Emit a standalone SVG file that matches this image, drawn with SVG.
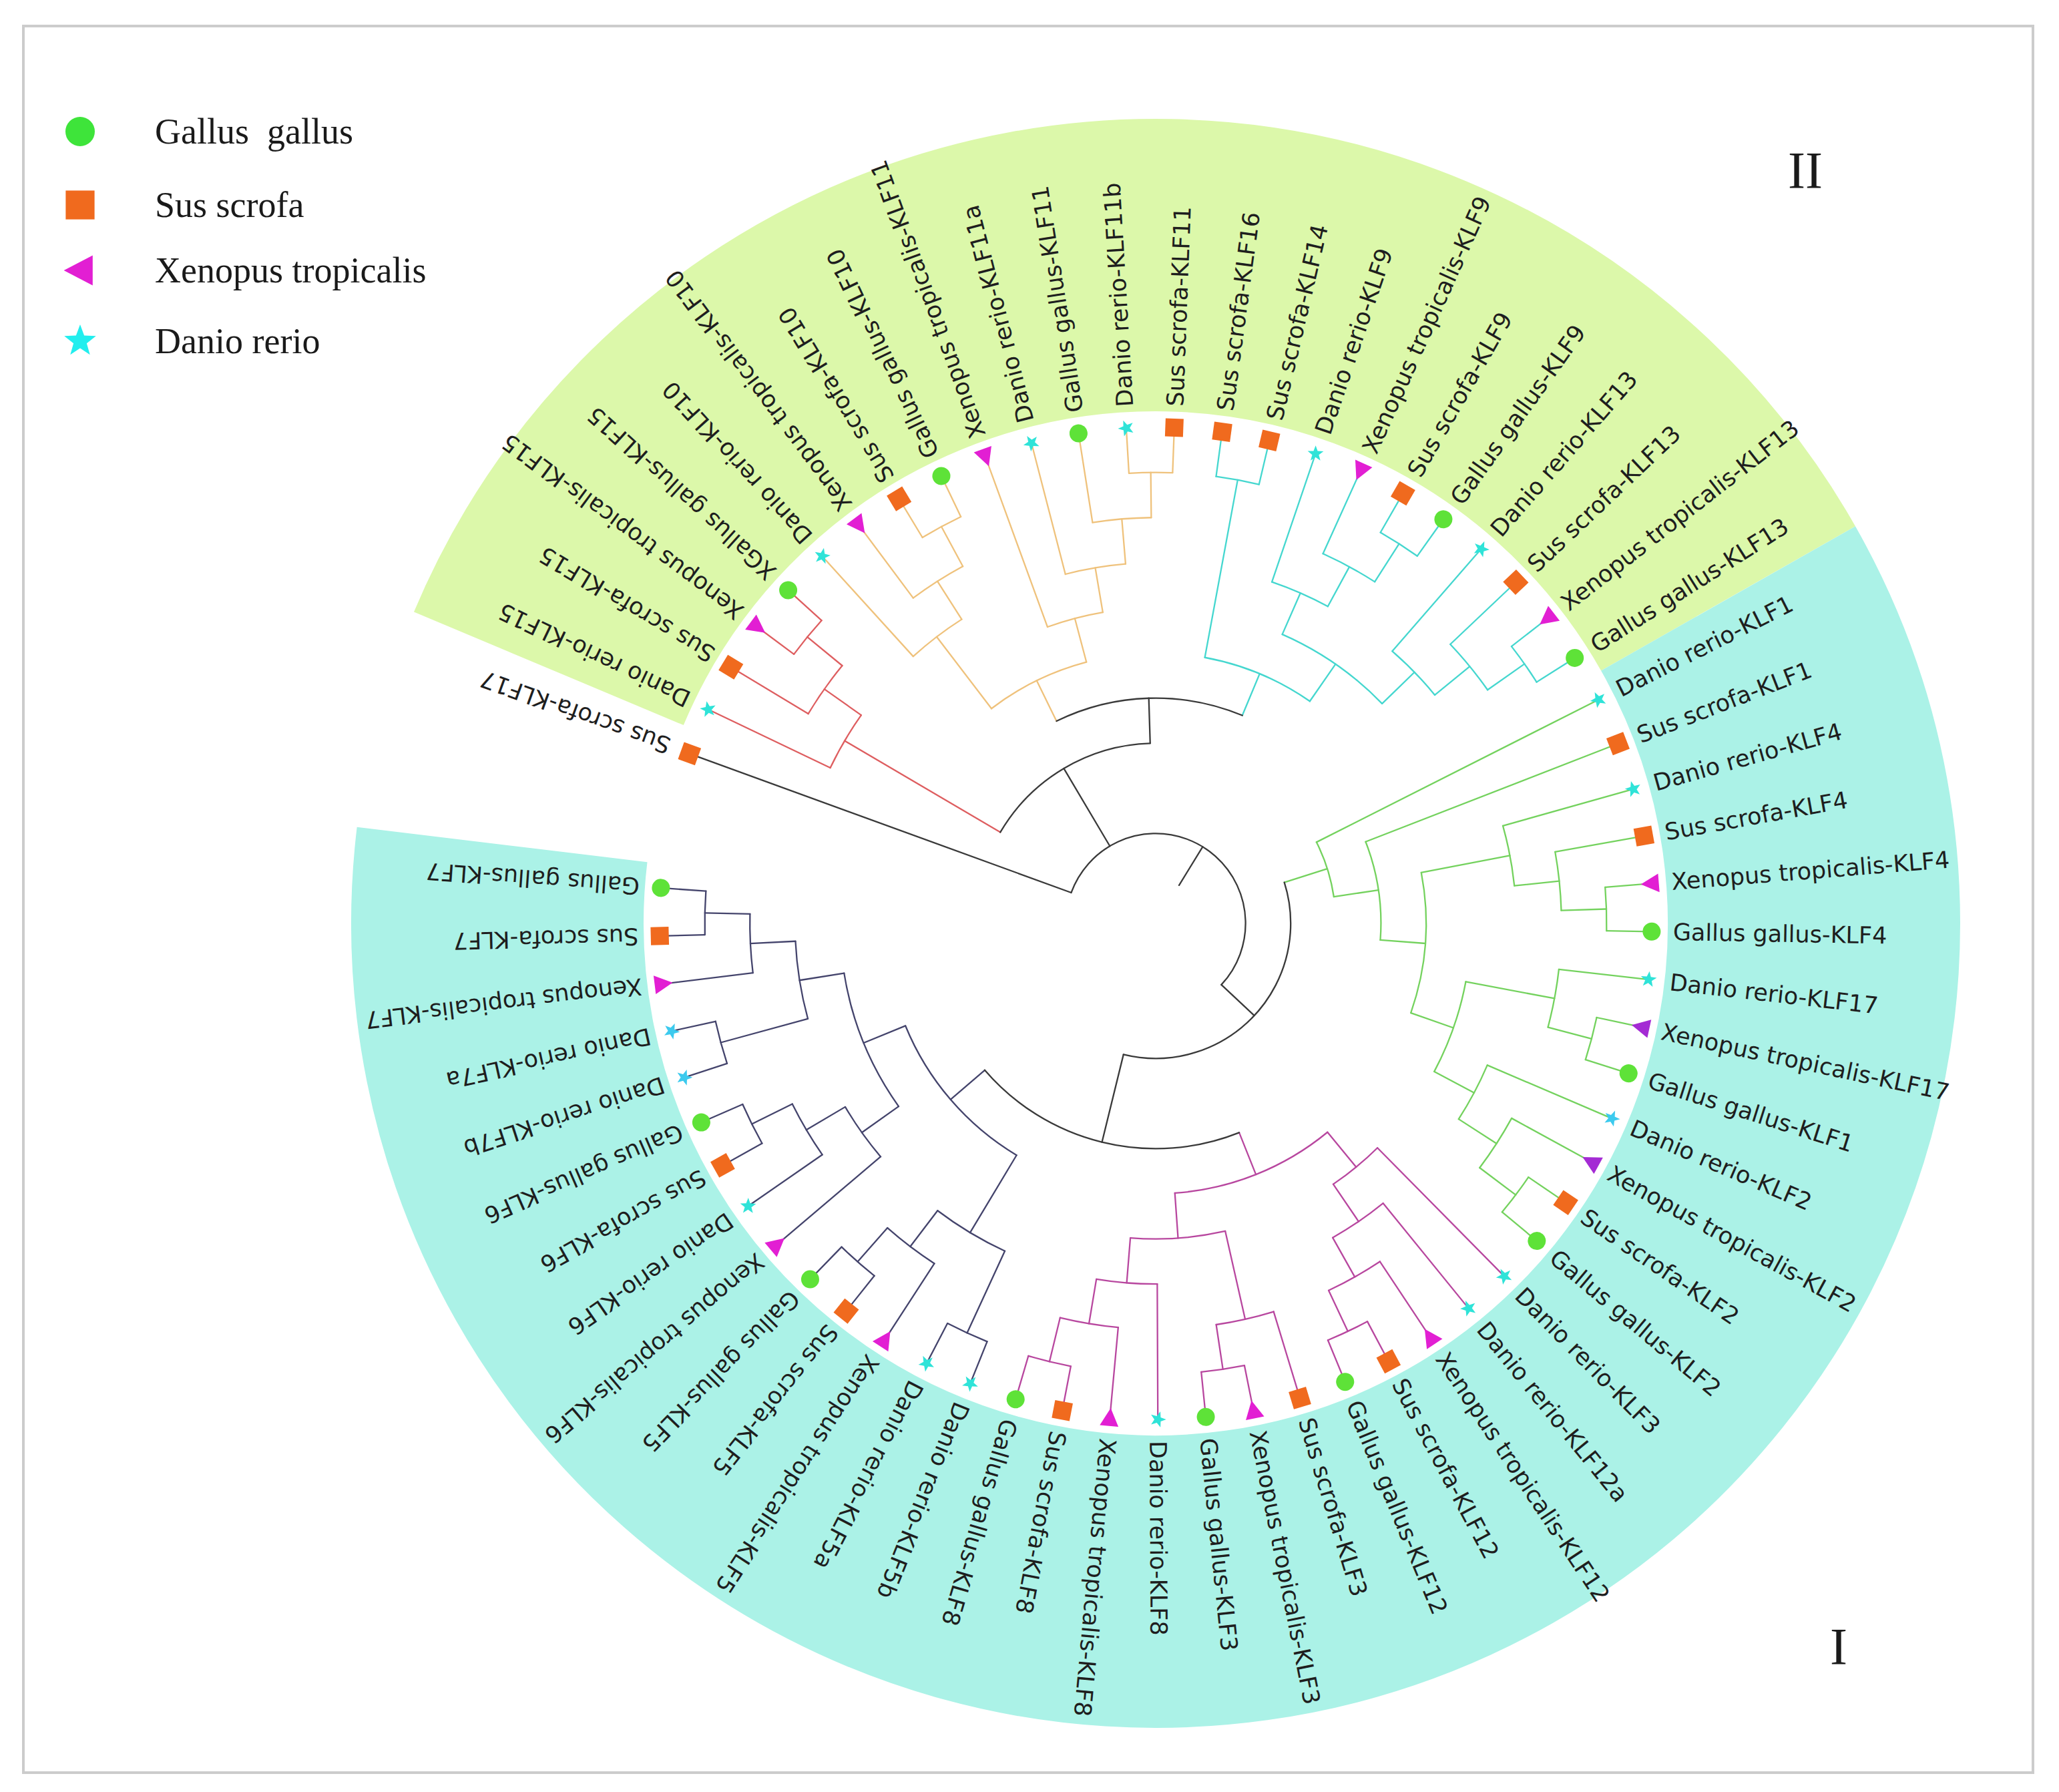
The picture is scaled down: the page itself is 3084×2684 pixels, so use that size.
<svg xmlns="http://www.w3.org/2000/svg" xmlns:xlink="http://www.w3.org/1999/xlink" width="3084" height="2684" viewBox="0 0 3084 2684">
<style>
.b{fill:none;stroke-width:2.3;stroke-linecap:round}
.k{stroke:#3a3a3a}.r{stroke:#de5e60}.o{stroke:#efc27c}.c{stroke:#45d7cf}.g{stroke:#74d25e}.p{stroke:#b8479f}.n{stroke:#44446c}
.lab{font-family:"DejaVu Sans",Verdana,sans-serif;font-size:35px;fill:#1e1e1e}
.leg{font-family:"Liberation Serif","Times New Roman",serif;font-size:54px;fill:#1a1a1a}
.rn{font-family:"Liberation Serif","Times New Roman",serif;font-size:78px;fill:#1a1a1a}
</style>
<defs>
<circle id="gg" r="13.5" fill="#5ee238"/>
<rect id="ss" x="-13.5" y="-13.5" width="27" height="27" fill="#f06a1e"/>
<path id="xt" d="M-14 0L13 -14L13 14Z" fill="#e21fd3"/>
<path id="xtv" d="M-14 0L13 -14L13 14Z" fill="#a42bd4"/>
<path id="dr" d="M0,-12.5 L3.06,-4.21 L11.89,-3.86 L4.95,1.61 L7.35,10.11 L0,5.2 L-7.35,10.11 L-4.95,1.61 L-11.89,-3.86 L-3.06,-4.21 Z" fill="#2fe3d8"/>
<path id="drb" d="M0,-12.5 L3.06,-4.21 L11.89,-3.86 L4.95,1.61 L7.35,10.11 L0,5.2 L-7.35,10.11 L-4.95,1.61 L-11.89,-3.86 L-3.06,-4.21 Z" fill="#3ccaee"/>
</defs>
<rect width="3084" height="2684" fill="#ffffff"/>
<rect x="35" y="39" width="3010" height="2616" fill="none" stroke="#cccccc" stroke-width="4"/>
<g id="legend">
<g id="leg-gg"><circle cx="120" cy="197" r="22" fill="#3ee43a"/><text class="leg" x="232" y="215" xml:space="preserve">Gallus  gallus</text></g>
<g id="leg-ss"><use href="#ss" transform="translate(120 307) scale(1.6)"/><text class="leg" x="232" y="325">Sus scrofa</text></g>
<g id="leg-xt"><use href="#xt" transform="translate(118 405) scale(1.6)"/><text class="leg" x="232" y="423">Xenopus tropicalis</text></g>
<g id="leg-dr"><path d="M0,-12.5 L3.06,-4.21 L11.89,-3.86 L4.95,1.61 L7.35,10.11 L0,5.2 L-7.35,10.11 L-4.95,1.61 L-11.89,-3.86 L-3.06,-4.21 Z" fill="#22eeee" transform="translate(120 511) scale(2)"/><text class="leg" x="232" y="529">Danio rerio</text></g>
</g>
<text id="group-II" class="rn" x="2704" y="281" text-anchor="middle">II</text>
<text id="group-I" class="rn" x="2754" y="2492" text-anchor="middle">I</text>
<g transform="translate(1731 1383)">
<g id="sectors" fill="none" stroke-width="438">
<circle r="986" stroke="#dcf8aa" pathLength="360" stroke-dasharray="127.65 400" transform="rotate(202.775)"/>
<circle r="986" stroke="#abf2e7" pathLength="360" stroke-dasharray="216.45 400" transform="rotate(330.425)"/>
</g>
<g id="connectors" class="b">
<path class="k" transform="rotate(301.54)" d="M67 0H134.6"/>
<path class="k" transform="rotate(200)" d="M134.6 0H743"/>
<path class="k" transform="rotate(239.33)" d="M134.6 0H269.8"/>
<path class="r" transform="rotate(210.41)" d="M269.8 0H540.2"/>
<path class="r" transform="rotate(205.55)" d="M540.2 0H743"/>
<path class="r" transform="rotate(215.2625)" d="M540.2 0H607.8"/>
<path class="r" transform="rotate(211.1)" d="M607.8 0H743"/>
<path class="r" transform="rotate(219.425)" d="M607.8 0H675.4"/>
<path class="r" transform="rotate(216.65)" d="M675.4 0H743"/>
<path class="r" transform="rotate(222.2)" d="M675.4 0H743"/>
<path class="k" transform="rotate(268.248)" d="M269.8 0H337.4"/>
<path class="o" transform="rotate(243.88)" d="M337.4 0H405"/>
<path class="o" transform="rotate(232.606)" d="M405 0H540.2"/>
<path class="o" transform="rotate(227.75)" d="M540.2 0H743"/>
<path class="o" transform="rotate(237.4625)" d="M540.2 0H607.8"/>
<path class="o" transform="rotate(233.3)" d="M607.8 0H743"/>
<path class="o" transform="rotate(241.625)" d="M607.8 0H675.4"/>
<path class="o" transform="rotate(238.85)" d="M675.4 0H743"/>
<path class="o" transform="rotate(244.4)" d="M675.4 0H743"/>
<path class="o" transform="rotate(255.153)" d="M405 0H472.6"/>
<path class="o" transform="rotate(249.95)" d="M472.6 0H743"/>
<path class="o" transform="rotate(260.356)" d="M472.6 0H540.2"/>
<path class="o" transform="rotate(255.5)" d="M540.2 0H743"/>
<path class="o" transform="rotate(265.2125)" d="M540.2 0H607.8"/>
<path class="o" transform="rotate(261.05)" d="M607.8 0H743"/>
<path class="o" transform="rotate(269.375)" d="M607.8 0H675.4"/>
<path class="o" transform="rotate(266.6)" d="M675.4 0H743"/>
<path class="o" transform="rotate(272.15)" d="M675.4 0H743"/>
<path class="c" transform="rotate(292.616)" d="M337.4 0H405"/>
<path class="c" transform="rotate(280.475)" d="M405 0H675.4"/>
<path class="c" transform="rotate(277.7)" d="M675.4 0H743"/>
<path class="c" transform="rotate(283.25)" d="M675.4 0H743"/>
<path class="c" transform="rotate(304.756)" d="M405 0H472.6"/>
<path class="c" transform="rotate(293.656)" d="M472.6 0H540.2"/>
<path class="c" transform="rotate(288.8)" d="M540.2 0H743"/>
<path class="c" transform="rotate(298.5125)" d="M540.2 0H607.8"/>
<path class="c" transform="rotate(294.35)" d="M607.8 0H743"/>
<path class="c" transform="rotate(302.675)" d="M607.8 0H675.4"/>
<path class="c" transform="rotate(299.9)" d="M675.4 0H743"/>
<path class="c" transform="rotate(305.45)" d="M675.4 0H743"/>
<path class="c" transform="rotate(315.856)" d="M472.6 0H540.2"/>
<path class="c" transform="rotate(311)" d="M540.2 0H743"/>
<path class="c" transform="rotate(320.7125)" d="M540.2 0H607.8"/>
<path class="c" transform="rotate(316.55)" d="M607.8 0H743"/>
<path class="c" transform="rotate(324.875)" d="M607.8 0H675.4"/>
<path class="c" transform="rotate(322.1)" d="M675.4 0H743"/>
<path class="c" transform="rotate(327.65)" d="M675.4 0H743"/>
<path class="k" transform="rotate(403.07)" d="M134.6 0H202.2"/>
<path class="g" transform="rotate(342.349)" d="M202.2 0H269.8"/>
<path class="g" transform="rotate(333.2)" d="M269.8 0H743"/>
<path class="g" transform="rotate(351.4975)" d="M269.8 0H337.4"/>
<path class="g" transform="rotate(338.75)" d="M337.4 0H743"/>
<path class="g" transform="rotate(364.245)" d="M337.4 0H405"/>
<path class="g" transform="rotate(349.156)" d="M405 0H540.2"/>
<path class="g" transform="rotate(344.3)" d="M540.2 0H743"/>
<path class="g" transform="rotate(354.0125)" d="M540.2 0H607.8"/>
<path class="g" transform="rotate(349.85)" d="M607.8 0H743"/>
<path class="g" transform="rotate(358.175)" d="M607.8 0H675.4"/>
<path class="g" transform="rotate(355.4)" d="M675.4 0H743"/>
<path class="g" transform="rotate(360.95)" d="M675.4 0H743"/>
<path class="g" transform="rotate(379.334)" d="M405 0H472.6"/>
<path class="g" transform="rotate(370.6625)" d="M472.6 0H607.8"/>
<path class="g" transform="rotate(366.5)" d="M607.8 0H743"/>
<path class="g" transform="rotate(374.825)" d="M607.8 0H675.4"/>
<path class="g" transform="rotate(372.05)" d="M675.4 0H743"/>
<path class="g" transform="rotate(377.6)" d="M675.4 0H743"/>
<path class="g" transform="rotate(388.006)" d="M472.6 0H540.2"/>
<path class="g" transform="rotate(383.15)" d="M540.2 0H743"/>
<path class="g" transform="rotate(392.8625)" d="M540.2 0H607.8"/>
<path class="g" transform="rotate(388.7)" d="M607.8 0H743"/>
<path class="g" transform="rotate(397.025)" d="M607.8 0H675.4"/>
<path class="g" transform="rotate(394.25)" d="M675.4 0H743"/>
<path class="g" transform="rotate(399.8)" d="M675.4 0H743"/>
<path class="k" transform="rotate(463.798)" d="M202.2 0H337.4"/>
<path class="p" transform="rotate(428.2435)" d="M337.4 0H405"/>
<path class="p" transform="rotate(410.553)" d="M405 0H472.6"/>
<path class="p" transform="rotate(405.35)" d="M472.6 0H743"/>
<path class="p" transform="rotate(415.756)" d="M472.6 0H540.2"/>
<path class="p" transform="rotate(410.9)" d="M540.2 0H743"/>
<path class="p" transform="rotate(420.6125)" d="M540.2 0H607.8"/>
<path class="p" transform="rotate(416.45)" d="M607.8 0H743"/>
<path class="p" transform="rotate(424.775)" d="M607.8 0H675.4"/>
<path class="p" transform="rotate(422)" d="M675.4 0H743"/>
<path class="p" transform="rotate(427.55)" d="M675.4 0H743"/>
<path class="p" transform="rotate(445.934)" d="M405 0H472.6"/>
<path class="p" transform="rotate(437.2625)" d="M472.6 0H607.8"/>
<path class="p" transform="rotate(433.1)" d="M607.8 0H743"/>
<path class="p" transform="rotate(441.425)" d="M607.8 0H675.4"/>
<path class="p" transform="rotate(438.65)" d="M675.4 0H743"/>
<path class="p" transform="rotate(444.2)" d="M675.4 0H743"/>
<path class="p" transform="rotate(454.606)" d="M472.6 0H540.2"/>
<path class="p" transform="rotate(449.75)" d="M540.2 0H743"/>
<path class="p" transform="rotate(459.4625)" d="M540.2 0H607.8"/>
<path class="p" transform="rotate(455.3)" d="M607.8 0H743"/>
<path class="p" transform="rotate(463.625)" d="M607.8 0H675.4"/>
<path class="p" transform="rotate(460.85)" d="M675.4 0H743"/>
<path class="p" transform="rotate(466.4)" d="M675.4 0H743"/>
<path class="n" transform="rotate(499.353)" d="M337.4 0H405"/>
<path class="n" transform="rotate(480.969)" d="M405 0H540.2"/>
<path class="n" transform="rotate(474.725)" d="M540.2 0H675.4"/>
<path class="n" transform="rotate(471.95)" d="M675.4 0H743"/>
<path class="n" transform="rotate(477.5)" d="M675.4 0H743"/>
<path class="n" transform="rotate(487.2125)" d="M540.2 0H607.8"/>
<path class="n" transform="rotate(483.05)" d="M607.8 0H743"/>
<path class="n" transform="rotate(491.375)" d="M607.8 0H675.4"/>
<path class="n" transform="rotate(488.6)" d="M675.4 0H743"/>
<path class="n" transform="rotate(494.15)" d="M675.4 0H743"/>
<path class="n" transform="rotate(517.7375)" d="M405 0H472.6"/>
<path class="n" transform="rotate(504.556)" d="M472.6 0H540.2"/>
<path class="n" transform="rotate(499.7)" d="M540.2 0H743"/>
<path class="n" transform="rotate(509.4125)" d="M540.2 0H607.8"/>
<path class="n" transform="rotate(505.25)" d="M607.8 0H743"/>
<path class="n" transform="rotate(513.575)" d="M607.8 0H675.4"/>
<path class="n" transform="rotate(510.8)" d="M675.4 0H743"/>
<path class="n" transform="rotate(516.35)" d="M675.4 0H743"/>
<path class="n" transform="rotate(530.919)" d="M472.6 0H540.2"/>
<path class="n" transform="rotate(524.675)" d="M540.2 0H675.4"/>
<path class="n" transform="rotate(521.9)" d="M675.4 0H743"/>
<path class="n" transform="rotate(527.45)" d="M675.4 0H743"/>
<path class="n" transform="rotate(537.1625)" d="M540.2 0H607.8"/>
<path class="n" transform="rotate(533)" d="M607.8 0H743"/>
<path class="n" transform="rotate(541.325)" d="M607.8 0H675.4"/>
<path class="n" transform="rotate(538.55)" d="M675.4 0H743"/>
<path class="n" transform="rotate(544.1)" d="M675.4 0H743"/>
<circle class="k" r="134.6" pathLength="360" stroke-dasharray="203.07 400" transform="rotate(200)"/>
<circle class="k" r="269.8" pathLength="360" stroke-dasharray="57.838 400" transform="rotate(210.41)"/>
<circle class="r" r="540.2" pathLength="360" stroke-dasharray="9.7125 400" transform="rotate(205.55)"/>
<circle class="r" r="607.8" pathLength="360" stroke-dasharray="8.325 400" transform="rotate(211.1)"/>
<circle class="r" r="675.4" pathLength="360" stroke-dasharray="5.55 400" transform="rotate(216.65)"/>
<circle class="k" r="337.4" pathLength="360" stroke-dasharray="48.736 400" transform="rotate(243.88)"/>
<circle class="o" r="405" pathLength="360" stroke-dasharray="22.547 400" transform="rotate(232.606)"/>
<circle class="o" r="540.2" pathLength="360" stroke-dasharray="9.7125 400" transform="rotate(227.75)"/>
<circle class="o" r="607.8" pathLength="360" stroke-dasharray="8.325 400" transform="rotate(233.3)"/>
<circle class="o" r="675.4" pathLength="360" stroke-dasharray="5.55 400" transform="rotate(238.85)"/>
<circle class="o" r="472.6" pathLength="360" stroke-dasharray="10.406 400" transform="rotate(249.95)"/>
<circle class="o" r="540.2" pathLength="360" stroke-dasharray="9.7125 400" transform="rotate(255.5)"/>
<circle class="o" r="607.8" pathLength="360" stroke-dasharray="8.325 400" transform="rotate(261.05)"/>
<circle class="o" r="675.4" pathLength="360" stroke-dasharray="5.55 400" transform="rotate(266.6)"/>
<circle class="c" r="405" pathLength="360" stroke-dasharray="24.281 400" transform="rotate(280.475)"/>
<circle class="c" r="675.4" pathLength="360" stroke-dasharray="5.55 400" transform="rotate(277.7)"/>
<circle class="c" r="472.6" pathLength="360" stroke-dasharray="22.2 400" transform="rotate(293.656)"/>
<circle class="c" r="540.2" pathLength="360" stroke-dasharray="9.7125 400" transform="rotate(288.8)"/>
<circle class="c" r="607.8" pathLength="360" stroke-dasharray="8.325 400" transform="rotate(294.35)"/>
<circle class="c" r="675.4" pathLength="360" stroke-dasharray="5.55 400" transform="rotate(299.9)"/>
<circle class="c" r="540.2" pathLength="360" stroke-dasharray="9.7125 400" transform="rotate(311)"/>
<circle class="c" r="607.8" pathLength="360" stroke-dasharray="8.325 400" transform="rotate(316.55)"/>
<circle class="c" r="675.4" pathLength="360" stroke-dasharray="5.55 400" transform="rotate(322.1)"/>
<circle class="k" r="202.2" pathLength="360" stroke-dasharray="121.449 400" transform="rotate(342.349)"/>
<circle class="g" r="269.8" pathLength="360" stroke-dasharray="18.2975 400" transform="rotate(333.2)"/>
<circle class="g" r="337.4" pathLength="360" stroke-dasharray="25.495 400" transform="rotate(338.75)"/>
<circle class="g" r="405" pathLength="360" stroke-dasharray="30.178 400" transform="rotate(349.156)"/>
<circle class="g" r="540.2" pathLength="360" stroke-dasharray="9.7125 400" transform="rotate(344.3)"/>
<circle class="g" r="607.8" pathLength="360" stroke-dasharray="8.325 400" transform="rotate(349.85)"/>
<circle class="g" r="675.4" pathLength="360" stroke-dasharray="5.55 400" transform="rotate(355.4)"/>
<circle class="g" r="472.6" pathLength="360" stroke-dasharray="17.3435 400" transform="rotate(370.6625)"/>
<circle class="g" r="607.8" pathLength="360" stroke-dasharray="8.325 400" transform="rotate(366.5)"/>
<circle class="g" r="675.4" pathLength="360" stroke-dasharray="5.55 400" transform="rotate(372.05)"/>
<circle class="g" r="540.2" pathLength="360" stroke-dasharray="9.7125 400" transform="rotate(383.15)"/>
<circle class="g" r="607.8" pathLength="360" stroke-dasharray="8.325 400" transform="rotate(388.7)"/>
<circle class="g" r="675.4" pathLength="360" stroke-dasharray="5.55 400" transform="rotate(394.25)"/>
<circle class="k" r="337.4" pathLength="360" stroke-dasharray="71.1095 400" transform="rotate(428.2435)"/>
<circle class="p" r="405" pathLength="360" stroke-dasharray="35.381 400" transform="rotate(410.553)"/>
<circle class="p" r="472.6" pathLength="360" stroke-dasharray="10.406 400" transform="rotate(405.35)"/>
<circle class="p" r="540.2" pathLength="360" stroke-dasharray="9.7125 400" transform="rotate(410.9)"/>
<circle class="p" r="607.8" pathLength="360" stroke-dasharray="8.325 400" transform="rotate(416.45)"/>
<circle class="p" r="675.4" pathLength="360" stroke-dasharray="5.55 400" transform="rotate(422)"/>
<circle class="p" r="472.6" pathLength="360" stroke-dasharray="17.3435 400" transform="rotate(437.2625)"/>
<circle class="p" r="607.8" pathLength="360" stroke-dasharray="8.325 400" transform="rotate(433.1)"/>
<circle class="p" r="675.4" pathLength="360" stroke-dasharray="5.55 400" transform="rotate(438.65)"/>
<circle class="p" r="540.2" pathLength="360" stroke-dasharray="9.7125 400" transform="rotate(449.75)"/>
<circle class="p" r="607.8" pathLength="360" stroke-dasharray="8.325 400" transform="rotate(455.3)"/>
<circle class="p" r="675.4" pathLength="360" stroke-dasharray="5.55 400" transform="rotate(460.85)"/>
<circle class="n" r="405" pathLength="360" stroke-dasharray="36.7685 400" transform="rotate(480.969)"/>
<circle class="n" r="540.2" pathLength="360" stroke-dasharray="12.4875 400" transform="rotate(474.725)"/>
<circle class="n" r="675.4" pathLength="360" stroke-dasharray="5.55 400" transform="rotate(471.95)"/>
<circle class="n" r="607.8" pathLength="360" stroke-dasharray="8.325 400" transform="rotate(483.05)"/>
<circle class="n" r="675.4" pathLength="360" stroke-dasharray="5.55 400" transform="rotate(488.6)"/>
<circle class="n" r="472.6" pathLength="360" stroke-dasharray="26.363 400" transform="rotate(504.556)"/>
<circle class="n" r="540.2" pathLength="360" stroke-dasharray="9.7125 400" transform="rotate(499.7)"/>
<circle class="n" r="607.8" pathLength="360" stroke-dasharray="8.325 400" transform="rotate(505.25)"/>
<circle class="n" r="675.4" pathLength="360" stroke-dasharray="5.55 400" transform="rotate(510.8)"/>
<circle class="n" r="540.2" pathLength="360" stroke-dasharray="12.4875 400" transform="rotate(524.675)"/>
<circle class="n" r="675.4" pathLength="360" stroke-dasharray="5.55 400" transform="rotate(521.9)"/>
<circle class="n" r="607.8" pathLength="360" stroke-dasharray="8.325 400" transform="rotate(533)"/>
<circle class="n" r="675.4" pathLength="360" stroke-dasharray="5.55 400" transform="rotate(538.55)"/>
</g>
<g id="leaves" class="lab">
<g id="n01" transform="rotate(200)"><use href="#ss" x="743"/><text x="775" dy="0.35em">Sus scrofa-KLF17</text></g>
<g id="n02" transform="rotate(205.55)"><use href="#dr" x="743"/><text x="775" dy="0.35em">Danio rerio-KLF15</text></g>
<g id="n03" transform="rotate(211.1)"><use href="#ss" x="743"/><text x="775" dy="0.35em">Sus scrofa-KLF15</text></g>
<g id="n04" transform="rotate(216.65)"><use href="#xt" x="743"/><text x="775" dy="0.35em">Xenopus tropicalis-KLF15</text></g>
<g id="n05" transform="rotate(222.2)"><use href="#gg" x="743"/><text x="775" dy="0.35em">XGallus gallus-KLF15</text></g>
<g id="n06" transform="rotate(227.75)"><use href="#dr" x="743"/><text x="775" dy="0.35em">Danio rerio-KLF10</text></g>
<g id="n07" transform="rotate(233.3)"><use href="#xt" x="743"/><text x="775" dy="0.35em">Xenopus tropicalis-KLF10</text></g>
<g id="n08" transform="rotate(238.85)"><use href="#ss" x="743"/><text x="775" dy="0.35em">Sus scrofa-KLF10</text></g>
<g id="n09" transform="rotate(244.4)"><use href="#gg" x="743"/><text x="775" dy="0.35em">Gallus gallus-KLF10</text></g>
<g id="n10" transform="rotate(249.95)"><use href="#xt" x="743"/><text x="775" dy="0.35em">Xenopus tropicalis-KLF11</text></g>
<g id="n11" transform="rotate(255.5)"><use href="#dr" x="743"/><text x="775" dy="0.35em">Danio rerio-KLF11a</text></g>
<g id="n12" transform="rotate(261.05)"><use href="#gg" x="743"/><text x="775" dy="0.35em">Gallus gallus-KLF11</text></g>
<g id="n13" transform="rotate(266.6)"><use href="#dr" x="743"/><text x="775" dy="0.35em">Danio rerio-KLF11b</text></g>
<g id="n14" transform="rotate(272.15)"><use href="#ss" x="743"/><text x="775" dy="0.35em">Sus scrofa-KLF11</text></g>
<g id="n15" transform="rotate(277.7)"><use href="#ss" x="743"/><text x="775" dy="0.35em">Sus scrofa-KLF16</text></g>
<g id="n16" transform="rotate(283.25)"><use href="#ss" x="743"/><text x="775" dy="0.35em">Sus scrofa-KLF14</text></g>
<g id="n17" transform="rotate(288.8)"><use href="#dr" x="743"/><text x="775" dy="0.35em">Danio rerio-KLF9</text></g>
<g id="n18" transform="rotate(294.35)"><use href="#xt" x="743"/><text x="775" dy="0.35em">Xenopus tropicalis-KLF9</text></g>
<g id="n19" transform="rotate(299.9)"><use href="#ss" x="743"/><text x="775" dy="0.35em">Sus scrofa-KLF9</text></g>
<g id="n20" transform="rotate(305.45)"><use href="#gg" x="743"/><text x="775" dy="0.35em">Gallus gallus-KLF9</text></g>
<g id="n21" transform="rotate(311)"><use href="#dr" x="743"/><text x="775" dy="0.35em">Danio rerio-KLF13</text></g>
<g id="n22" transform="rotate(316.55)"><use href="#ss" x="743"/><text x="775" dy="0.35em">Sus scrofa-KLF13</text></g>
<g id="n23" transform="rotate(322.1)"><use href="#xt" x="743"/><text x="775" dy="0.35em">Xenopus tropicalis-KLF13</text></g>
<g id="n24" transform="rotate(327.65)"><use href="#gg" x="743"/><text x="775" dy="0.35em">Gallus gallus-KLF13</text></g>
<g id="n25" transform="rotate(333.2)"><use href="#dr" x="743"/><text x="775" dy="0.35em">Danio rerio-KLF1</text></g>
<g id="n26" transform="rotate(338.75)"><use href="#ss" x="743"/><text x="775" dy="0.35em">Sus scrofa-KLF1</text></g>
<g id="n27" transform="rotate(344.3)"><use href="#dr" x="743"/><text x="775" dy="0.35em">Danio rerio-KLF4</text></g>
<g id="n28" transform="rotate(349.85)"><use href="#ss" x="743"/><text x="775" dy="0.35em">Sus scrofa-KLF4</text></g>
<g id="n29" transform="rotate(355.4)"><use href="#xt" x="743"/><text x="775" dy="0.35em">Xenopus tropicalis-KLF4</text></g>
<g id="n30" transform="rotate(360.95)"><use href="#gg" x="743"/><text x="775" dy="0.35em">Gallus gallus-KLF4</text></g>
<g id="n31" transform="rotate(366.5)"><use href="#dr" x="743"/><text x="775" dy="0.35em">Danio rerio-KLF17</text></g>
<g id="n32" transform="rotate(372.05)"><use href="#xtv" x="743"/><text x="775" dy="0.35em">Xenopus tropicalis-KLF17</text></g>
<g id="n33" transform="rotate(377.6)"><use href="#gg" x="743"/><text x="775" dy="0.35em">Gallus gallus-KLF1</text></g>
<g id="n34" transform="rotate(383.15)"><use href="#drb" x="743"/><text x="775" dy="0.35em">Danio rerio-KLF2</text></g>
<g id="n35" transform="rotate(388.7)"><use href="#xtv" x="743"/><text x="775" dy="0.35em">Xenopus tropicalis-KLF2</text></g>
<g id="n36" transform="rotate(394.25)"><use href="#ss" x="743"/><text x="775" dy="0.35em">Sus scrofa-KLF2</text></g>
<g id="n37" transform="rotate(399.8)"><use href="#gg" x="743"/><text x="775" dy="0.35em">Gallus gallus-KLF2</text></g>
<g id="n38" transform="rotate(405.35)"><use href="#dr" x="743"/><text x="775" dy="0.35em">Danio rerio-KLF3</text></g>
<g id="n39" transform="rotate(410.9)"><use href="#dr" x="743"/><text x="775" dy="0.35em">Danio rerio-KLF12a</text></g>
<g id="n40" transform="rotate(416.45)"><use href="#xt" x="743"/><text x="775" dy="0.35em">Xenopus tropicalis-KLF12</text></g>
<g id="n41" transform="rotate(422)"><use href="#ss" x="743"/><text x="775" dy="0.35em">Sus scrofa-KLF12</text></g>
<g id="n42" transform="rotate(427.55)"><use href="#gg" x="743"/><text x="775" dy="0.35em">Gallus gallus-KLF12</text></g>
<g id="n43" transform="rotate(433.1)"><use href="#ss" x="743"/><text x="775" dy="0.35em">Sus scrofa-KLF3</text></g>
<g id="n44" transform="rotate(438.65)"><use href="#xt" x="743"/><text x="775" dy="0.35em">Xenopus tropicalis-KLF3</text></g>
<g id="n45" transform="rotate(444.2)"><use href="#gg" x="743"/><text x="775" dy="0.35em">Gallus gallus-KLF3</text></g>
<g id="n46" transform="rotate(449.75)"><use href="#dr" x="743"/><text x="775" dy="0.35em">Danio rerio-KLF8</text></g>
<g id="n47" transform="rotate(455.3)"><use href="#xt" x="743"/><text x="775" dy="0.35em">Xenopus tropicalis-KLF8</text></g>
<g id="n48" transform="rotate(460.85)"><use href="#ss" x="743"/><text x="775" dy="0.35em">Sus scrofa-KLF8</text></g>
<g id="n49" transform="rotate(466.4)"><use href="#gg" x="743"/><text x="775" dy="0.35em">Gallus gallus-KLF8</text></g>
<g id="n50" transform="rotate(471.95)"><use href="#dr" x="743"/><text x="775" dy="0.35em">Danio rerio-KLF5b</text></g>
<g id="n51" transform="rotate(477.5)"><use href="#dr" x="743"/><text x="775" dy="0.35em">Danio rerio-KLF5a</text></g>
<g id="n52" transform="rotate(483.05)"><use href="#xt" x="743"/><text x="775" dy="0.35em">Xenopus tropicalis-KLF5</text></g>
<g id="n53" transform="rotate(488.6)"><use href="#ss" x="743"/><text x="775" dy="0.35em">Sus scrofa-KLF5</text></g>
<g id="n54" transform="rotate(494.15)"><use href="#gg" x="743"/><text x="775" dy="0.35em">Gallus gallus-KLF5</text></g>
<g id="n55" transform="rotate(499.7)"><use href="#xt" x="743"/><text x="775" dy="0.35em">Xenopus tropicalis-KLF6</text></g>
<g id="n56" transform="rotate(505.25)"><use href="#dr" x="743"/><text x="775" dy="0.35em">Danio rerio-KLF6</text></g>
<g id="n57" transform="rotate(510.8)"><use href="#ss" x="743"/><text x="775" dy="0.35em">Sus scrofa-KLF6</text></g>
<g id="n58" transform="rotate(516.35)"><use href="#gg" x="743"/><text x="775" dy="0.35em">Gallus gallus-KLF6</text></g>
<g id="n59" transform="rotate(521.9)"><use href="#drb" x="743"/><text x="775" dy="0.35em">Danio rerio-KLF7b</text></g>
<g id="n60" transform="rotate(527.45)"><use href="#drb" x="743"/><text x="775" dy="0.35em">Danio rerio-KLF7a</text></g>
<g id="n61" transform="rotate(533)"><use href="#xt" x="743"/><text x="775" dy="0.35em">Xenopus tropicalis-KLF7</text></g>
<g id="n62" transform="rotate(538.55)"><use href="#ss" x="743"/><text x="775" dy="0.35em">Sus scrofa-KLF7</text></g>
<g id="n63" transform="rotate(544.1)"><use href="#gg" x="743"/><text x="775" dy="0.35em">Gallus gallus-KLF7</text></g>
</g>
</g>
</svg>
